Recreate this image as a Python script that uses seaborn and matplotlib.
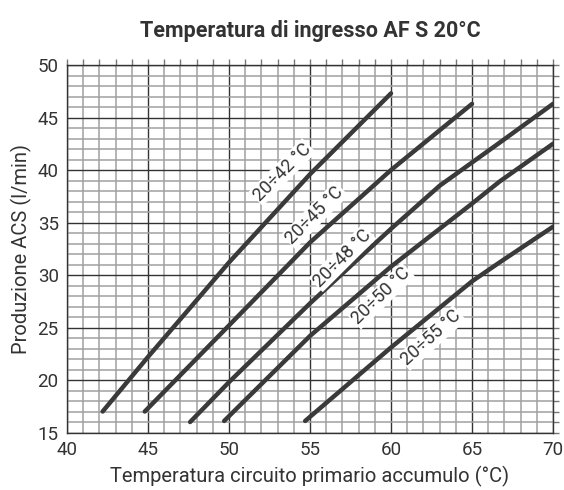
import numpy as np
import pandas as pd
import matplotlib
matplotlib.use("Agg")
import matplotlib.pyplot as plt
import seaborn as sns
from matplotlib.ticker import MultipleLocator

# curves (primary temp -> DHW flow l/min)
curves = ["20÷42 °C", "20÷45 °C", "20÷48 °C", "20÷50 °C", "20÷55 °C"]

x_42 = [42.2, 45, 50, 55, 60]
y_42 = [17.0, 22.2, 31.2, 39.6, 47.3]

x_45 = [44.8, 50, 55, 60, 65]
y_45 = [17.0, 25.2, 33.1, 40.0, 46.3]

x_48 = [47.6, 50, 55, 60, 63, 66.7, 70]
y_48 = [16.0, 19.8, 27.3, 34.4, 38.5, 42.6, 46.3]

x_50 = [49.7, 55, 60, 65, 66.7, 70]
y_50 = [16.1, 24.2, 30.8, 36.8, 38.9, 42.5]

x_55 = [54.7, 60, 65, 66.7, 70]
y_55 = [16.1, 23.1, 29.4, 31.2, 34.6]

xs = [x_42, x_45, x_48, x_50, x_55]
ys = [y_42, y_45, y_48, y_50, y_55]

# where the curve labels sit
label_x = [53.3, 55.3, 57.0, 59.4, 62.5]
label_y = [39.8, 35.7, 31.6, 28.0, 24.0]
label_rot = [45, 45, 45, 44, 42]

df = pd.concat(
    [pd.DataFrame({"curve": c, "x": x, "y": y}) for c, x, y in zip(curves, xs, ys)],
    ignore_index=True,
)

sns.set_style("white")
plt.rcParams["font.family"] = ["Roboto", "DejaVu Sans"]

fig = plt.figure(figsize=(5.64, 4.9), dpi=100)
ax = fig.add_axes([0.1188, 0.1173, 0.8617, 0.75])

ink = "#3a3a3a"
sns.lineplot(data=df, x="x", y="y", hue="curve", palette=[ink] * len(curves),
             estimator=None, sort=False, legend=False, linewidth=3.2,
             solid_capstyle="round", ax=ax, zorder=5)

for c, lx, ly, r in zip(curves, label_x, label_y, label_rot):
    ax.text(lx, ly, c, rotation=r, rotation_mode="anchor", ha="center", va="center",
            fontsize=13, color="#333333", zorder=6,
            bbox=dict(boxstyle="square,pad=0.06", fc="white", ec="none"))

ax.set_xlim(40, 70)
ax.set_ylim(15, 50)
ax.xaxis.set_major_locator(MultipleLocator(5))
ax.yaxis.set_major_locator(MultipleLocator(5))
ax.xaxis.set_minor_locator(MultipleLocator(1))
ax.yaxis.set_minor_locator(MultipleLocator(1))
ax.grid(which="minor", color="#a0a0a0", linewidth=1.1)
ax.grid(which="major", color="#333333", linewidth=1.0)
ax.set_axisbelow(True)

ax.tick_params(which="both", direction="out", top=True, right=True,
               length=4, width=1.0, color="#777777")
ax.tick_params(which="major", labelsize=13.5, labelcolor="#333333", pad=2)
for s in ax.spines.values():
    s.set_color("#333333")
    s.set_linewidth(1.0)

ax.set_xlabel("Temperatura circuito primario accumulo (°C)", fontsize=14.5,
              color="#333333", labelpad=5)
ax.set_ylabel("Produzione ACS (l/min)", fontsize=14.5, color="#333333", labelpad=4)
ax.set_title("Temperatura di ingresso AF S 20°C", fontsize=15.5, fontweight="bold",
             color="#333333", pad=20)

fig.savefig("out.png", dpi=100)
